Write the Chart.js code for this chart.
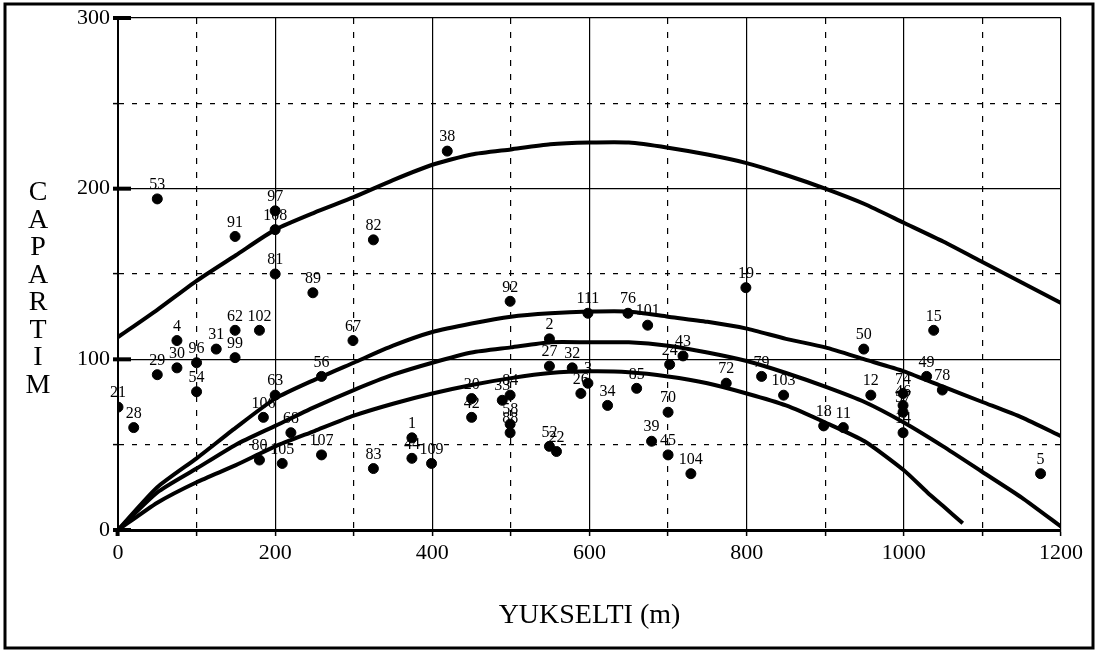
<!DOCTYPE html>
<html>
<head>
<meta charset="utf-8">
<script src="https://cdn.jsdelivr.net/npm/chart.js@4/dist/chart.umd.min.js"></script>
<style>
  body { margin: 0; background: #fff; }
  canvas { display: block; }
</style>
</head>
<body>
<canvas id="chart" width="1097" height="652"></canvas>
<script>
// point numbers, elevation (m) and capartim values
const pointIds = ['21','28','29','30','4','96','54','31','62','99','102','53','91','97','108','81','89','67','56','63','106','68','80','105','107','83','82','38','92','111','76','101','2','27','32','3','26','34','85','24','43','70','39','45','104','72','20','42','33','84','58','88','52','22','1','44','109','19','50','15','49','78','12','79','103','18','11','74','46','57','14','5'];
const pointX = [0,20,50,75,75,100,100,125,149,149,180,50,149,200,200,200,248,299,259,200,185,220,180,209,259,325,325,419,499,598,649,674,549,549,578,598,589,623,660,702,719,700,679,700,729,774,450,450,489,499,499,499,549,558,374,374,399,799,949,1038,1029,1049,958,819,847,898,923,999,999,999,999,1174];
const pointY = [72,60,91,95,111,98,81,106,117,101,117,194,172,187,176,150,139,111,90,79,66,57,41,39,44,36,170,222,134,127,127,120,112,96,95,86,80,73,83,97,102,69,52,44,33,86,77,66,76,79,62,57,49,46,54,42,39,142,106,117,90,82,79,90,79,61,60,80,73,69,57,33];

// fitted curves
const curveX = [0,50,100,150,200,250,300,350,400,450,500,550,600,650,700,750,800,850,900,950,1000,1050,1100,1150,1200];
const curveA = [113,129,146,161,176,186,195,205,214,220,223,226,227,227,224,220,215,208,200,191,180,169,157,145,133];
const curveB = [0,25,42,60,77,88,98,108,116,121,125,127,128,128,125,122,118,112,107,100,93,84,75,66,55];
const curveC = [0,22,36,50,61,72,82,91,98,104,107,110,110,110,108,104,99,92,84,75,63,49,34,19,2];
const curveDX = [0,50,100,150,200,250,300,350,400,450,500,550,600,650,700,750,800,850,900,950,1000,1030,1050,1075];
const curveD = [0,16,28,38,49,58,67,74,80,85,89,92,93,92.5,90,86,80,73,63,52,35,22,14,4];

const xTicks = [0,200,400,600,800,1000,1200];
const yTicks = [0,100,200,300];

const pts = pointX.map((x, i) => ({ x: x, y: pointY[i] }));
const line = (xs, ys) => xs.map((x, i) => ({ x: x, y: ys[i] }));

const curveStyle = {
  type: 'line',
  borderColor: '#000',
  borderWidth: 4,
  pointRadius: 0,
  fill: false,
  tension: 0.2
};

const decor = {
  id: 'decor',
  afterDatasetsDraw(chart) {
    const ctx = chart.ctx;
    const meta = chart.getDatasetMeta(0);
    ctx.save();
    ctx.fillStyle = '#000';
    ctx.font = '16px "Liberation Serif", serif';
    ctx.textAlign = 'center';
    ctx.textBaseline = 'bottom';
    meta.data.forEach((el, i) => {
      ctx.fillText(pointIds[i], el.x, el.y - 6);
    });
    ctx.restore();
  },
  afterDraw(chart) {
    const ctx = chart.ctx;
    const ys = chart.scales.y;
    const area = chart.chartArea;
    ctx.save();
    ctx.fillStyle = '#000';
    yTicks.forEach(v => {
      const py = ys.getPixelForValue(v);
      ctx.fillRect(area.left - 5, py - 2, 18, 4);
    });
    // y axis title, stacked letters
    ctx.font = '28px "Liberation Serif", serif';
    ctx.textAlign = 'center';
    ctx.textBaseline = 'alphabetic';
    const letters = 'CAPARTIM'.split('');
    letters.forEach((ch, i) => {
      ctx.fillText(ch, 38, 200 + i * 27.5);
    });
    // outer frame
    ctx.lineWidth = 3;
    ctx.strokeStyle = '#000';
    ctx.strokeRect(5, 4, 1088, 644);
    ctx.restore();
  }
};

new Chart(document.getElementById('chart'), {
  type: 'scatter',
  data: {
    datasets: [
      {
        data: pts,
        backgroundColor: '#000',
        borderColor: '#000',
        pointRadius: 5,
        pointHoverRadius: 5,
        order: 0
      },
      Object.assign({ data: line(curveX, curveA), order: 1 }, curveStyle),
      Object.assign({ data: line(curveX, curveB), order: 1 }, curveStyle),
      Object.assign({ data: line(curveX, curveC), order: 1 }, curveStyle),
      Object.assign({ data: line(curveDX, curveD), order: 1 }, curveStyle)
    ]
  },
  options: {
    responsive: false,
    animation: false,
    events: [],
    layout: { padding: { left: 0, right: 36, top: 18, bottom: 0 } },
    plugins: {
      legend: { display: false },
      tooltip: { enabled: false },
      title: { display: false }
    },
    scales: {
      x: {
        type: 'linear',
        min: 0,
        max: 1200,
        afterFit(scale) { scale.height = 122; },
        ticks: {
          stepSize: 100,
          color: '#000',
          padding: 4,
          maxRotation: 0,
          font: { family: '"Liberation Serif", serif', size: 22 },
          callback: v => xTicks.includes(v) ? String(v) : ''
        },
        grid: {
          color: '#000',
          lineWidth: 1.2,
          tickLength: 6,
          tickColor: '#000',
          tickWidth: c => (c.tick && c.tick.value === 0) ? 4 : 1.5
        },
        border: {
          color: '#000',
          width: 3,
          dash: c => (c.tick && c.tick.value % 200 !== 0) ? [6, 8] : []
        },
        title: {
          display: true,
          text: 'YUKSELTI (m)',
          color: '#000',
          font: { family: '"Liberation Serif", serif', size: 28 },
          padding: { top: 22, bottom: 20 }
        }
      },
      y: {
        type: 'linear',
        min: 0,
        max: 300,
        afterFit(scale) { scale.width = 118; },
        ticks: {
          stepSize: 50,
          color: '#000',
          padding: 3,
          font: { family: '"Liberation Serif", serif', size: 22 },
          callback: v => yTicks.includes(v) ? String(v) : ''
        },
        grid: {
          color: '#000',
          lineWidth: 1.2,
          tickLength: 5,
          tickColor: '#000',
          tickWidth: 1.5
        },
        border: {
          color: '#000',
          width: 2,
          dash: c => (c.tick && c.tick.value % 100 !== 0) ? [5, 8] : []
        }
      }
    }
  },
  plugins: [decor]
});
</script>
</body>
</html>
